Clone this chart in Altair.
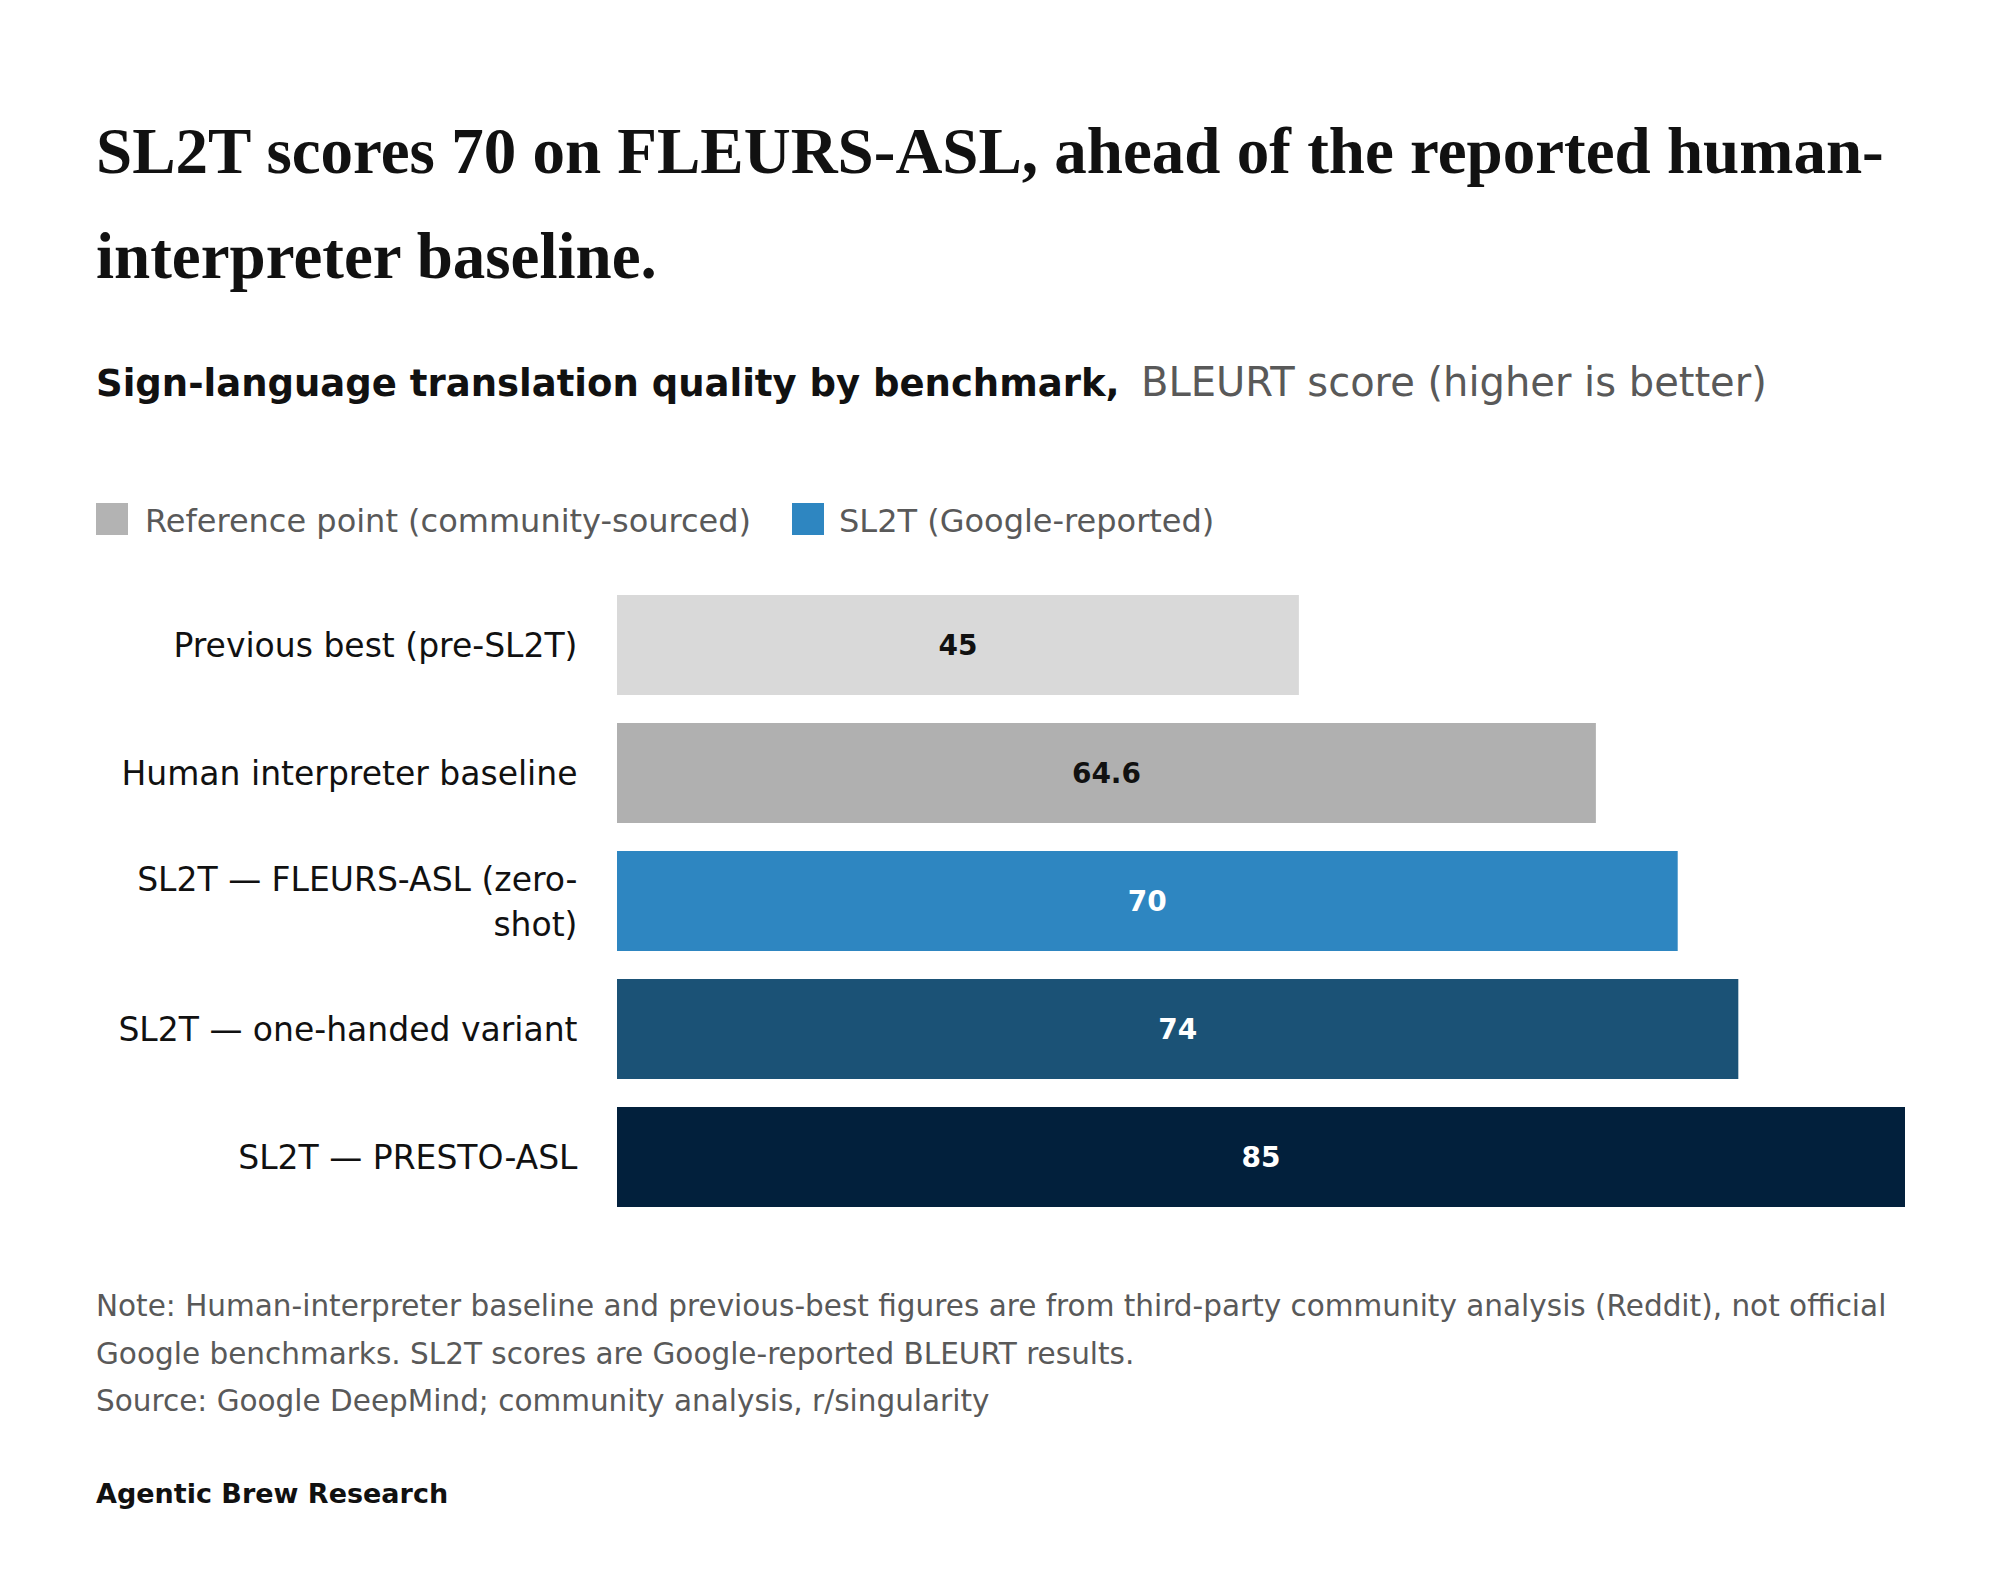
import altair as alt
import pandas as pd

# bar data
benchmarks = [
    "Previous best (pre-SL2T)",
    "Human interpreter baseline",
    "SL2T — FLEURS-ASL (zero-shot)",
    "SL2T — one-handed variant",
    "SL2T — PRESTO-ASL",
]
scores = [45, 64.6, 70, 74, 85]
score_text = ["45", "64.6", "70", "74", "85"]
bar_colors = ["#d9d9d9", "#b0b0b0", "#2e86c1", "#1b5276", "#02203c"]
text_colors = ["#111111", "#111111", "#ffffff", "#ffffff", "#ffffff"]

legend_labels = ["Reference point (community-sourced)", "SL2T (Google-reported)"]
legend_colors = ["#b3b3b3", "#2e86c1"]

title_lines = ["SL2T scores 70 on FLEURS-ASL, ahead of the reported human-",
               "interpreter baseline."]
subtitle_bold = "Sign-language translation quality by benchmark,"
subtitle_rest = "BLEURT score (higher is better)"
note_lines = [
    "Note: Human-interpreter baseline and previous-best figures are from third-party community analysis (Reddit), not official",
    "Google benchmarks. SL2T scores are Google-reported BLEURT results.",
    "Source: Google DeepMind; community analysis, r/singularity",
]
brand = "Agentic Brew Research"

FONT = "DejaVu Sans"
SERIF = "Liberation Serif"

df = pd.DataFrame({
    "benchmark": benchmarks,
    "score": scores,
    "score_text": score_text,
    "bar_color": bar_colors,
    "text_color": text_colors,
})

y_enc = alt.Y(
    "benchmark:N",
    sort=benchmarks,
    title=None,
    scale=alt.Scale(paddingInner=0.22, paddingOuter=0.11),
    axis=alt.Axis(
        domain=False, ticks=False, labelFont=FONT, labelFontSize=33,
        labelColor="#111111", labelPadding=40, labelLimit=700,
        labelLineHeight=45,
        labelOffset={"condition": {"test": "indexof(datum.value, 'zero') >= 0", "value": -20},
                     "value": 2},
        labelExpr="datum.value == 'SL2T — FLEURS-ASL (zero-shot)' ? ['SL2T — FLEURS-ASL (zero-', 'shot)'] : datum.value",
    ),
)

bars = alt.Chart(df).mark_bar().encode(
    x=alt.X("score:Q", scale=alt.Scale(domain=[0, 85], nice=False), axis=None),
    y=y_enc,
    color=alt.Color("bar_color:N", scale=None),
)

values = alt.Chart(df).transform_calculate(
    mid="datum.score / 2"
).mark_text(font=FONT, fontSize=28, fontWeight="bold", baseline="middle", dy=2).encode(
    x="mid:Q",
    y=alt.Y("benchmark:N", sort=benchmarks),
    text="score_text:N",
    color=alt.Color("text_color:N", scale=None),
)

one = pd.DataFrame({"k": [0]})

title = alt.Chart(one).mark_text(
    text=title_lines, font=SERIF, fontSize=65, fontWeight="bold", color="#111111",
    align="left", baseline="alphabetic", lineHeight=105,
).encode(x=alt.value(-521), y=alt.value(-408))

sub1 = alt.Chart(one).mark_text(
    text=subtitle_bold, font=FONT, fontSize=37, fontWeight="bold", color="#111111",
    align="left", baseline="alphabetic",
).encode(x=alt.value(-521), y=alt.value(-185))

sub2 = alt.Chart(one).mark_text(
    text=subtitle_rest, font=FONT, fontSize=40, color="#595959",
    align="left", baseline="alphabetic",
).encode(x=alt.value(524), y=alt.value(-185))

leg_sq1 = alt.Chart(one).mark_rect(color=legend_colors[0]).encode(
    x=alt.value(-521), x2=alt.value(-489), y=alt.value(-78), y2=alt.value(-46))
leg_sq2 = alt.Chart(one).mark_rect(color=legend_colors[1]).encode(
    x=alt.value(175), x2=alt.value(207), y=alt.value(-78), y2=alt.value(-46))
leg_t1 = alt.Chart(one).mark_text(
    text=legend_labels[0], font=FONT, fontSize=32, color="#595959",
    align="left", baseline="alphabetic",
).encode(x=alt.value(-472), y=alt.value(-49))
leg_t2 = alt.Chart(one).mark_text(
    text=legend_labels[1], font=FONT, fontSize=32, color="#595959",
    align="left", baseline="alphabetic",
).encode(x=alt.value(222), y=alt.value(-49))

notes = alt.Chart(one).mark_text(
    text=note_lines, font=FONT, fontSize=29.5, color="#595959",
    align="left", baseline="alphabetic", lineHeight=47.5,
).encode(x=alt.value(-521), y=alt.value(735))

footer = alt.Chart(one).mark_text(
    text=brand, font=FONT, fontSize=27, fontWeight="bold", color="#111111",
    align="left", baseline="alphabetic",
).encode(x=alt.value(-521), y=alt.value(922))

chart = alt.layer(
    bars, values, title, sub1, sub2, leg_sq1, leg_sq2, leg_t1, leg_t2, notes, footer
).properties(
    width=1288,
    height=640,
    autosize=alt.AutoSizeParams(type="none"),
    padding={"left": 609, "top": 573, "right": 80, "bottom": 350},
    background="#ffffff",
).configure_view(stroke=None)

chart.save("out.html", embed_options={"renderer": "svg", "actions": False})
